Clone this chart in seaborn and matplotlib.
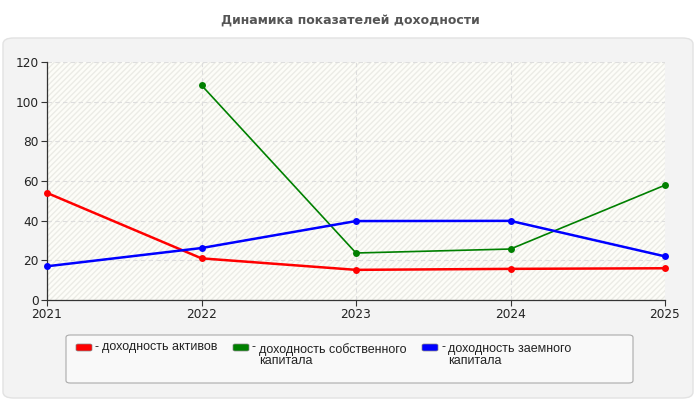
import pandas as pd
import numpy as np
import seaborn as sns
import matplotlib.pyplot as plt
from matplotlib.patches import FancyBboxPatch, Rectangle

# данные
years = [2021, 2022, 2023, 2024, 2025]
roa = [54.0, 21.0, 15.2, 15.7, 16.0]          # доходность активов
roe = [np.nan, 108.3, 23.7, 25.7, 57.9]       # доходность собственного капитала
rod = [17.0, 26.2, 39.8, 39.9, 22.0]          # доходность заемного капитала
labels = ["доходность активов",
          "доходность собственного\nкапитала",
          "доходность заемного\nкапитала"]
colors = ["#ff0000", "#008000", "#0000ff"]
title = "Динамика показателей доходности"

sns.set_theme(style="white")
plt.rcParams['font.family'] = ['DejaVu Sans']

fig = plt.figure(figsize=(7, 4), dpi=100)
W, H = 700, 400

# серая панель
fig.patches.append(FancyBboxPatch((3 / W, 2 / H), 690 / W, 360 / H,
                                  boxstyle="round,pad=0,rounding_size=0.015",
                                  transform=fig.transFigure, facecolor="#f3f3f3",
                                  edgecolor="#e2e2e2", lw=1, zorder=-10))
fig.text(0.5, 1 - 20 / H, title, ha="center", va="center",
         fontsize=9, fontweight="bold", color="#555555")

ax = fig.add_axes([47 / W, 100 / H, 618 / W, 238 / H])
ax.set_facecolor("#fdfdf8")
ax.add_patch(Rectangle((0, 0), 1, 1, transform=ax.transAxes, facecolor="none",
                       edgecolor="#ececE6", hatch="//////", lw=0, zorder=0))

df = pd.DataFrame({"year": years * 3,
                   "value": roa + roe + rod,
                   "series": ["a"] * 5 + ["e"] * 5 + ["d"] * 5})
widths = [1.8, 1.2, 1.8]
for key, c, lw in zip(["a", "e", "d"], colors, widths):
    sub = df[df["series"] == key].dropna()
    sns.lineplot(data=sub, x="year", y="value", ax=ax, color=c, lw=lw,
                 marker="o", markersize=5, markeredgewidth=0, zorder=3,
                 clip_on=False)

ax.set_xlim(2021, 2025)
ax.set_ylim(0, 120)
ax.set_xticks(years)
ax.set_yticks(range(0, 121, 20))
ax.set_xlabel("")
ax.set_ylabel("")
ax.grid(True, color="#dddddd", linestyle=(0, (4, 3)), lw=0.8)
for s in ["top", "right"]:
    ax.spines[s].set_visible(False)
for s in ["left", "bottom"]:
    ax.spines[s].set_color("#333333")
    ax.spines[s].set_linewidth(0.9)
ax.tick_params(axis="both", direction="out", length=4, width=0.8, color="#333333",
               labelsize=8.7, labelcolor="#222222", pad=2)
ax.tick_params(axis="y", left=True)
ax.tick_params(axis="x", bottom=True)

# легенда
fig.patches.append(FancyBboxPatch((66 / W, 1 - 383 / H), 567 / W, 48 / H,
                                  boxstyle="round,pad=0,rounding_size=0.006",
                                  transform=fig.transFigure, facecolor="#f9f9f9",
                                  edgecolor="#aaaaaa", lw=0.8, zorder=-5))
swatch_x = [76, 233, 422]
text_top = [341, 343, 343]
lfont = ["Liberation Sans", "DejaVu Sans"]
for x, c, lab, ty in zip(swatch_x, colors, labels, text_top):
    fig.patches.append(FancyBboxPatch((x / W, 1 - 351 / H), 16 / W, 7 / H,
                                      boxstyle="round,pad=0,rounding_size=0.003",
                                      transform=fig.transFigure, facecolor=c,
                                      edgecolor="#888888", lw=0.5, zorder=-4))
    fig.text((x + 19) / W, 1 - 341 / H, "-", ha="left", va="top",
             fontsize=9, color="#222222", family=lfont)
    fig.text((x + 26) / W, 1 - ty / H, lab, ha="left", va="top",
             fontsize=9, color="#222222", linespacing=0.95, family=lfont)

fig.savefig("out.png", dpi=100)
